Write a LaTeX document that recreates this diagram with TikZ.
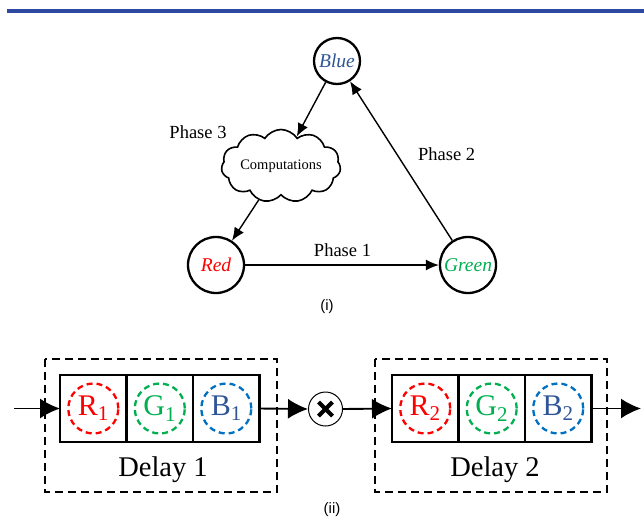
\documentclass[tikz,border=0pt]{standalone}
\usepackage{fontspec}
\setmainfont{Liberation Serif}
\newfontfamily\capfont{Liberation Sans}
\usetikzlibrary{arrows.meta,shapes.symbols,positioning}

\definecolor{redc}{RGB}{255,0,0}
\definecolor{greenc}{RGB}{0,176,80}
\definecolor{bluec}{RGB}{47,85,151}
\definecolor{dashblue}{RGB}{0,112,192}
\definecolor{rulec}{RGB}{46,74,160}

\tikzset{
  state/.style={circle,draw,line width=2.3pt,minimum size=56pt,inner sep=0pt,font=\fontsize{19.5}{20}\selectfont\itshape},
  link/.style={line width=1.4pt,-{Latex[length=13pt,width=11pt]}},
  flow/.style={line width=1.9pt,-{Latex[length=20pt,width=20pt]}},
  cell/.style={draw,line width=2.2pt,minimum width=66.5pt,minimum height=67pt,inner sep=0pt,outer sep=0pt},
  slot/.style={circle,draw,dashed,dash pattern=on 6pt off 4pt,line width=2.3pt,minimum size=50pt,inner sep=0pt,font=\fontsize{30}{30}\selectfont},
  phase/.style={font=\fontsize{18.5}{19}\selectfont,anchor=base},
  delaybox/.style={dashed,dash pattern=on 8pt off 5pt,line width=1.6pt},
}

\begin{document}
\begin{tikzpicture}[x=1pt,y=-1pt]
\useasboundingbox (0,0) rectangle (644,519);
\draw [rulec,line width=3.2pt] (7,11) -- (644,11);

% (i) the three phases
\node [state,minimum size=46pt] (blue) at (337,61) {\textcolor{bluec}{Blue}};
\node [state] (red) at (216,265) {\textcolor{redc}{Red}};
\node [state] (green) at (468,265) {\textcolor{greenc}{Green}};
\node [cloud,draw,line width=1.6pt,cloud puffs=11,cloud puff arc=115,aspect=2,minimum width=102pt,minimum height=53pt,inner sep=0pt,font=\fontsize{14.5}{15}\selectfont] (comp) at (281,166) {Computations};
\draw [link] (red) -- (green);
\draw [link] (green) -- (blue);
\draw [link] (blue) -- (comp);
\draw [link] (comp) -- (red);
\node [phase] (ph1) at (342.5,256) {Phase 1};
\node [phase] (ph2) at (446.7,160.7) {Phase 2};
\node [phase] (ph3) at (198,138.3) {Phase 3};
\node [font=\capfont\fontsize{15}{15}\selectfont] (capi) at (327,307) {(i)};

% (ii) the two delays
\node [cell] (r1cell) at (93.3,408.5) {};
\node [cell,right=0pt of r1cell] (g1cell) {};
\node [cell,right=0pt of g1cell] (b1cell) {};
\node [cell] (r2cell) at (425.2,408.5) {};
\node [cell,right=0pt of r2cell] (g2cell) {};
\node [cell,right=0pt of g2cell] (b2cell) {};
\node [slot,draw=redc,text=redc] (r1) at (r1cell) {R\textsubscript{1}};
\node [slot,draw=greenc,text=greenc] (g1) at (g1cell) {G\textsubscript{1}};
\node [slot,draw=dashblue,text=bluec] (b1) at (b1cell) {B\textsubscript{1}};
\node [slot,draw=redc,text=redc] (r2) at (r2cell) {R\textsubscript{2}};
\node [slot,draw=greenc,text=greenc] (g2) at (g2cell) {G\textsubscript{2}};
\node [slot,draw=dashblue,text=bluec] (b2) at (b2cell) {B\textsubscript{2}};
\draw [delaybox] (45,359) rectangle (277,492);
\draw [delaybox] (375,359) rectangle (607,492);
\node [font=\fontsize{28.5}{29}\selectfont,anchor=base] (d1) at (163,476) {Delay 1};
\node [font=\fontsize{28.5}{29}\selectfont,anchor=base] (d2) at (495,476) {Delay 2};

\node [circle,draw,line width=1pt,minimum size=34pt] (mult) at (325.5,409) {};
\draw [line width=4pt] ([xshift=-7pt,yshift=-7pt]mult.center) -- ([xshift=7pt,yshift=7pt]mult.center);
\draw [line width=4pt] ([xshift=-7pt,yshift=7pt]mult.center) -- ([xshift=7pt,yshift=-7pt]mult.center);

\coordinate (in) at (14,408.5);
\coordinate (out) at (641,408.5);
\draw [flow] (in) -- (r1cell.west);
\draw [flow] (b1cell.east) -- (mult.west);
\draw [flow] (mult.east) -- (r2cell.west);
\draw [flow] (b2cell.east) -- (out);
\node [font=\capfont\fontsize{15}{15}\selectfont] (capii) at (332,510) {(ii)};
\end{tikzpicture}
\end{document}
